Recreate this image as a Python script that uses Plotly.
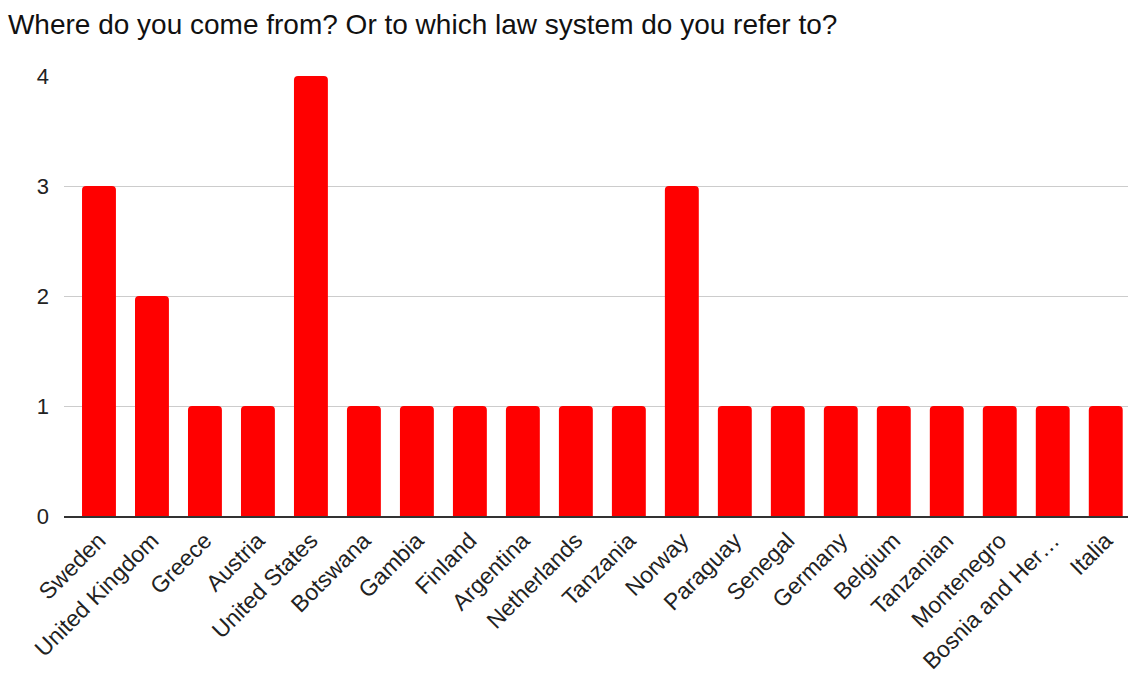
import plotly.graph_objects as go

categories = ["Sweden", "United Kingdom", "Greece", "Austria", "United States", "Botswana",
              "Gambia", "Finland", "Argentina", "Netherlands", "Tanzania", "Norway",
              "Paraguay", "Senegal", "Germany", "Belgium", "Tanzanian", "Montenegro",
              "Bosnia and Her…", "Italia"]
values = [3, 2, 1, 1, 4, 1, 1, 1, 1, 1, 1, 3, 1, 1, 1, 1, 1, 1, 1, 1]
y_ticks = [0, 1, 2, 3, 4]

fig = go.Figure(go.Bar(
    x=list(range(len(categories))), y=values,
    marker=dict(color="#ff0000", cornerradius=4, line=dict(width=0)),
))

fig.update_layout(
    width=1130, height=676,
    margin=dict(l=64, r=2, t=76, b=160, autoexpand=False),
    paper_bgcolor="white", plot_bgcolor="white",
    bargap=0.36,
    showlegend=False,
    font=dict(family="Liberation Sans, Arial, sans-serif", size=22, color="#222"),
    title=dict(text="Where do you come from? Or to which law system do you refer to?",
               x=0.007, xanchor="left", y=0.964, yanchor="middle",
               font=dict(size=28, color="#111")),
    xaxis=dict(
        tickmode="array", tickvals=list(range(len(categories))), ticktext=categories,
        tickangle=-45, range=[-0.66, 19.42], showgrid=False,
        showline=True, linecolor="#333", linewidth=2, ticks="",
        tickfont=dict(size=23, color="#222"),
    ),
    yaxis=dict(
        range=[0, 4], tickvals=y_ticks, showgrid=True, gridcolor="#cccccc", gridwidth=1,
        zeroline=False, ticks="", ticklabelstandoff=14,
        tickfont=dict(size=22, color="#222"),
    ),
)

fig.write_html("out.html")
